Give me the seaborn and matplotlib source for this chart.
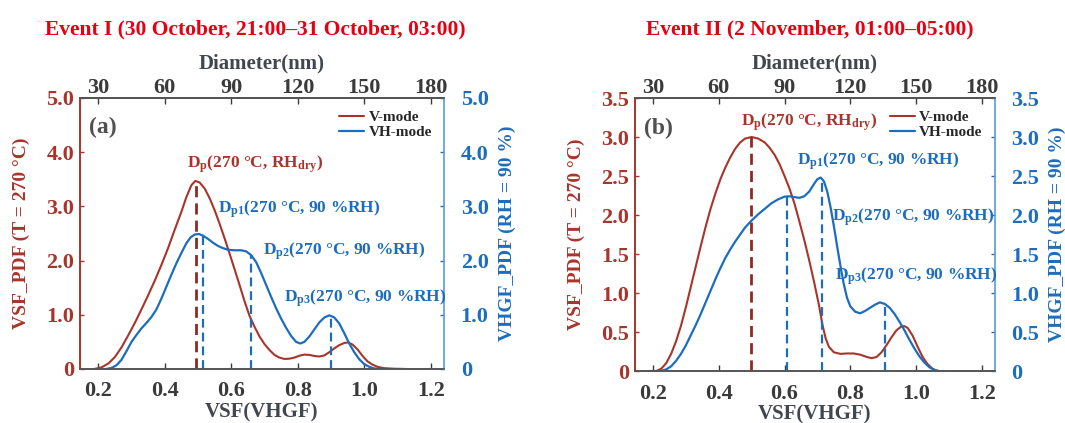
import numpy as np
import pandas as pd
import seaborn as sns
import matplotlib
matplotlib.use("Agg")
import matplotlib.pyplot as plt
from matplotlib.ticker import FuncFormatter

# ---------------- data ----------------
titles = ["Event I (30 October, 21:00\u201331 October, 03:00)",
          "Event II (2 November, 01:00\u201305:00)"]
panel_labels = ["(a)", "(b)"]
ylims = [5.0, 3.5]
yticks_a = [0, 1.0, 2.0, 3.0, 4.0, 5.0]
yticks_b = [0, 0.5, 1.0, 1.5, 2.0, 2.5, 3.0, 3.5]
xticks = [0.2, 0.4, 0.6, 0.8, 1.0, 1.2]
diam_ticks = [30, 60, 90, 120, 150, 180]

# Panel (a) V-mode
va_x = [0.188, 0.21, 0.23, 0.25, 0.27, 0.29, 0.31, 0.33, 0.35, 0.37, 0.39, 0.41, 0.43,
        0.45, 0.465, 0.48, 0.492, 0.505, 0.52, 0.535, 0.55, 0.565, 0.58, 0.595, 0.61,
        0.625, 0.64, 0.655, 0.67, 0.685, 0.70, 0.715, 0.73, 0.745, 0.76, 0.775, 0.79,
        0.805, 0.82, 0.835, 0.85, 0.865, 0.88, 0.895, 0.91, 0.925, 0.94, 0.952, 0.965,
        0.98, 0.995, 1.01, 1.025, 1.04, 1.06, 1.09, 1.127]
va_y = [0.0, 0.03, 0.10, 0.22, 0.40, 0.62, 0.85, 1.10, 1.36, 1.63, 1.92, 2.23, 2.57,
        2.90, 3.17, 3.39, 3.47, 3.44, 3.33, 3.15, 2.93, 2.68, 2.41, 2.13, 1.84,
        1.55, 1.25, 0.98, 0.78, 0.60, 0.46, 0.35, 0.26, 0.21, 0.185, 0.19, 0.21,
        0.245, 0.265, 0.26, 0.24, 0.23, 0.25, 0.31, 0.38, 0.44, 0.48, 0.49, 0.45,
        0.36, 0.24, 0.14, 0.08, 0.04, 0.015, 0.005, 0.0]
# Panel (a) VH-mode
vha_x = [0.224, 0.24, 0.255, 0.27, 0.285, 0.30, 0.315, 0.33, 0.345, 0.36, 0.375, 0.39,
         0.405, 0.42, 0.435, 0.45, 0.465, 0.478, 0.49, 0.503, 0.515, 0.53, 0.545, 0.56,
         0.575, 0.59, 0.61, 0.63, 0.645, 0.66, 0.675, 0.69, 0.705, 0.72, 0.735, 0.75,
         0.765, 0.78, 0.795, 0.808, 0.82, 0.835, 0.85, 0.865, 0.88, 0.895, 0.91, 0.925,
         0.94, 0.955, 0.97, 0.985, 1.0, 1.015, 1.03, 1.05]
vha_y = [0.0, 0.02, 0.07, 0.17, 0.33, 0.50, 0.63, 0.75, 0.85, 0.96, 1.10, 1.30,
         1.52, 1.74, 1.95, 2.14, 2.32, 2.43, 2.48, 2.49, 2.46, 2.40, 2.33, 2.27,
         2.23, 2.20, 2.19, 2.19, 2.17, 2.10, 1.97, 1.77, 1.55, 1.33, 1.12, 0.93,
         0.76, 0.61, 0.50, 0.47, 0.50, 0.60, 0.73, 0.86, 0.95, 0.99, 0.95, 0.84,
         0.66, 0.47, 0.31, 0.18, 0.09, 0.04, 0.01, 0.0]
# Panel (b) V-mode
vb_x = [0.187, 0.21, 0.225, 0.24, 0.255, 0.27, 0.285, 0.30, 0.315, 0.33, 0.345, 0.36,
        0.375, 0.39, 0.405, 0.42, 0.435, 0.45, 0.465, 0.48, 0.50, 0.52, 0.54, 0.555,
        0.57, 0.585, 0.60, 0.615, 0.63, 0.645, 0.66, 0.675, 0.69, 0.705, 0.715, 0.725,
        0.735, 0.75, 0.77, 0.79, 0.81, 0.83, 0.85, 0.865, 0.88, 0.895, 0.91, 0.925,
        0.94, 0.955, 0.965, 0.975, 0.99, 1.005, 1.02, 1.035, 1.05, 1.065]
vb_y = [0.0, 0.0, 0.03, 0.10, 0.22, 0.38, 0.58, 0.82, 1.08, 1.34, 1.60, 1.85,
        2.08, 2.28, 2.46, 2.61, 2.74, 2.85, 2.93, 2.98, 3.0, 2.98, 2.93, 2.86,
        2.77, 2.65, 2.50, 2.34, 2.15, 1.92, 1.68, 1.42, 1.14, 0.84, 0.60, 0.42,
        0.31, 0.24, 0.22, 0.225, 0.225, 0.21, 0.18, 0.165, 0.18, 0.24, 0.33, 0.43,
        0.52, 0.57, 0.575, 0.55, 0.45, 0.31, 0.18, 0.09, 0.03, 0.0]
# Panel (b) VH-mode
vhb_x = [0.222, 0.24, 0.255, 0.27, 0.285, 0.30, 0.315, 0.33, 0.345, 0.36, 0.375, 0.39,
         0.405, 0.42, 0.435, 0.45, 0.465, 0.48, 0.50, 0.52, 0.54, 0.56, 0.58, 0.60,
         0.615, 0.63, 0.645, 0.66, 0.675, 0.69, 0.70, 0.71, 0.72, 0.73, 0.74, 0.75,
         0.76, 0.77, 0.78, 0.79, 0.80, 0.815, 0.83, 0.845, 0.86, 0.875, 0.89, 0.905,
         0.92, 0.935, 0.95, 0.965, 0.98, 0.995, 1.01, 1.025, 1.04, 1.055, 1.07]
vhb_y = [0.0, 0.02, 0.06, 0.13, 0.22, 0.33, 0.46, 0.59, 0.73, 0.88, 1.03, 1.18,
         1.32, 1.45, 1.56, 1.66, 1.75, 1.84, 1.93, 2.01, 2.08, 2.15, 2.20, 2.235,
         2.24, 2.23, 2.22, 2.24, 2.30, 2.40, 2.46, 2.48, 2.43, 2.30, 2.10, 1.86,
         1.60, 1.35, 1.12, 0.94, 0.83, 0.76, 0.74, 0.77, 0.81, 0.85, 0.88, 0.86,
         0.81, 0.73, 0.63, 0.52, 0.40, 0.29, 0.19, 0.11, 0.05, 0.015, 0.0]

# peak markers (dashed lines)
v_peak_x = [0.494, 0.499]
v_peak_y = [3.47, 3.0]
vh_peaks_x = [[0.515, 0.66, 0.899], [0.606, 0.714, 0.905]]
vh_peaks_y = [[2.46, 2.10, 0.99], [2.24, 2.47, 0.86]]

# annotation anchor positions (data coords)
ann_v = [(0.468, 3.78), (0.468, 3.19)]
ann_vh = [[(0.561, 2.95), (0.696, 2.18), (0.759, 1.30)],
          [(0.637, 2.69), (0.745, 1.97), (0.755, 1.22)]]

series = [(va_x, va_y, vha_x, vha_y), (vb_x, vb_y, vhb_x, vhb_y)]
yticks_list = [yticks_a, yticks_b]

# ---------------- style ----------------
sns.set_theme(style="ticks")
plt.rcParams["font.family"] = ["Liberation Serif", "DejaVu Serif"]
plt.rcParams["font.weight"] = "bold"
plt.rcParams["mathtext.fontset"] = "custom"
plt.rcParams["mathtext.rm"] = "Liberation Serif:bold"
plt.rcParams["mathtext.it"] = "Liberation Serif:bold"
plt.rcParams["mathtext.bf"] = "Liberation Serif:bold"

BROWN = "#A8352B"
DBROWN = "#8E2A22"
BLUE = "#1C6DBE"
LBLUE = "#5A9BD5"
GRAY = "#3A3A3A"
SLATE = "#41464F"
RED = "#E60012"

fig = plt.figure(figsize=(10.65, 4.23), dpi=100)
positions = [[0.0751, 0.1277, 0.3418, 0.6407], [0.5962, 0.1229, 0.3380, 0.6454]]
title_x = [0.240, 0.760]

fmt = FuncFormatter(lambda v, p: "0" if abs(v) < 1e-9 else f"{v:.1f}")

for i in range(2):
    ax = fig.add_axes(positions[i])
    ax2 = ax.twinx()
    vx, vy, hx, hy = series[i]
    sns.lineplot(x=vx, y=vy, ax=ax, color=BROWN, lw=1.5, sort=False,
                 estimator=None, label="V-mode", legend=False)
    sns.lineplot(x=hx, y=hy, ax=ax2, color=BLUE, lw=1.6, sort=False,
                 estimator=None, label="VH-mode", legend=False)

    ax.vlines([v_peak_x[i]], 0, [v_peak_y[i]], colors=DBROWN, linestyles=(0, (4, 2.2)), lw=2.0)
    ax2.vlines(vh_peaks_x[i], 0, vh_peaks_y[i], colors=BLUE, linestyles=(0, (4, 2.2)), lw=1.6)

    for a in (ax, ax2):
        a.set_xlim(0.145, 1.24)
        a.set_ylim(0, ylims[i])
        a.set_yticks(yticks_list[i])
        a.yaxis.set_major_formatter(fmt)
    ax.set_xticks(xticks)
    ax.set_xticklabels([f"{t:.1f}" for t in xticks])

    ax.tick_params(axis="x", direction="in", length=4, width=1, colors=GRAY,
                   labelsize=16, pad=9)
    ax.tick_params(axis="y", direction="in", length=3, width=1, colors=BROWN,
                   labelsize=16, pad=4)
    ax2.tick_params(axis="y", direction="in", length=3, width=1, colors=BLUE,
                    labelsize=16, pad=12)
    for lab in ax.get_xticklabels() + ax.get_yticklabels() + ax2.get_yticklabels():
        lab.set_fontweight("bold")

    ax.spines["left"].set_color(BROWN)
    ax2.spines["left"].set_color(BROWN)
    ax2.spines["right"].set_color(LBLUE)
    ax.spines["right"].set_visible(False)
    for a in (ax, ax2):
        a.spines["bottom"].set_color("#555555")
        a.spines["top"].set_color("#555555")
        for s in a.spines.values():
            s.set_linewidth(1.2)

    ax.set_xlabel("VSF(VHGF)", fontsize=15, fontweight="bold", color=SLATE, labelpad=1)
    ax.set_ylabel("VSF_PDF (T = 270 \u00b0C)", fontsize=14, fontweight="bold",
                  color=BROWN, labelpad=12)
    ax2.set_ylabel("VHGF_PDF (RH = 90 %)", fontsize=14, fontweight="bold",
                   color=BLUE, labelpad=7)

    sec = ax.secondary_xaxis("top", functions=(lambda v: v * 150.0, lambda d: d / 150.0))
    sec.set_xticks(diam_ticks)
    sec.set_xticklabels([str(d) for d in diam_ticks])
    sec.tick_params(direction="in", length=4, width=1, colors=GRAY, labelsize=16, pad=0)
    for lab in sec.get_xticklabels():
        lab.set_fontweight("bold")
    sec.spines["top"].set_color("#555555")
    sec.set_xlabel("Diameter(nm)", fontsize=15, fontweight="bold", color=SLATE, labelpad=7)

    ax.text(0.025, 0.89, panel_labels[i], transform=ax.transAxes, fontsize=17,
            color="#505050", ha="left", va="center", fontweight="bold")

    # annotations
    tx, ty = ann_v[i]
    ax.text(tx, ty, "D$_{\\mathrm{p}}$(270 \u00b0C, RH$_{\\mathrm{dry}}$)",
            color=BROWN, fontsize=12.5, fontweight="bold", ha="left", va="center")
    for k, (px, py) in enumerate(ann_vh[i]):
        ax2.text(px, py, "D$_{\\mathrm{p%d}}$(270 \u00b0C, 90 %%RH)" % (k + 1),
                 color=BLUE, fontsize=12.5, fontweight="bold", ha="left", va="center")

    h1, l1 = ax.get_legend_handles_labels()
    h2, l2 = ax2.get_legend_handles_labels()
    ax2.legend(h1 + h2, l1 + l2, loc="upper right", frameon=False,
               prop={"family": "Liberation Serif", "weight": "bold", "size": 11},
               handlelength=1.6, handletextpad=0.3, labelspacing=0.1,
               borderaxespad=0.6, borderpad=0.2)

    fig.text(title_x[i], 0.93, titles[i], color=RED, fontsize=15.5,
             fontweight="bold", ha="center", va="center")

fig.savefig("out.png", dpi=100)
